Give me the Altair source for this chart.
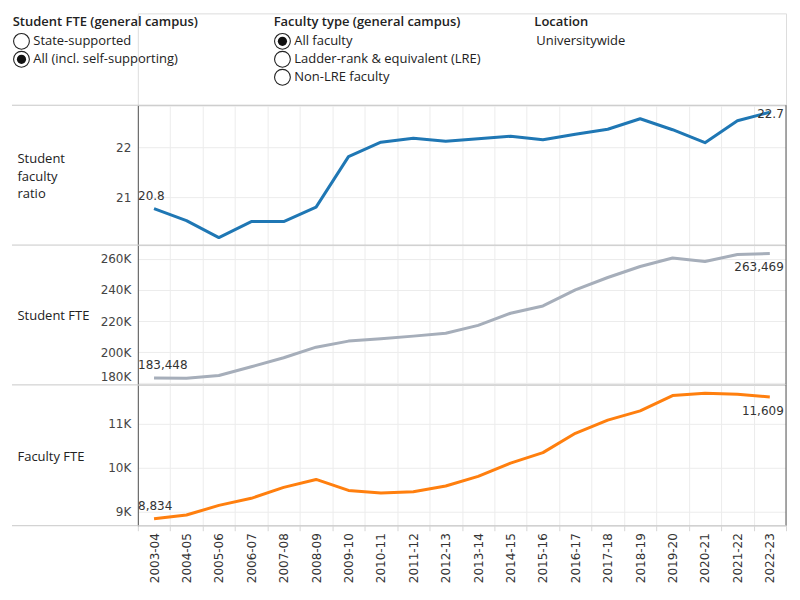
import altair as alt
import pandas as pd

# ---------------- data ----------------
years = ["2003-04", "2004-05", "2005-06", "2006-07", "2007-08", "2008-09", "2009-10",
         "2010-11", "2011-12", "2012-13", "2013-14", "2014-15", "2015-16", "2016-17",
         "2017-18", "2018-19", "2019-20", "2020-21", "2021-22", "2022-23"]
ratio = [20.77, 20.53, 20.19, 20.51, 20.51, 20.80, 21.81, 22.10, 22.18, 22.12,
         22.17, 22.22, 22.15, 22.26, 22.36, 22.57, 22.35, 22.09, 22.53, 22.70]
student_fte = [183448, 183200, 185000, 190600, 196400, 203200, 207100, 208600, 210300, 212100,
               217200, 225000, 229700, 240000, 248000, 255100, 260500, 258300, 262800, 263469]
faculty_fte = [8834, 8920, 9140, 9300, 9550, 9730, 9480, 9420, 9450, 9580,
               9800, 10100, 10340, 10780, 11080, 11290, 11640, 11690, 11670, 11609]

header_titles = ["Student FTE (general campus)", "Faculty type (general campus)", "Location"]
header_options = [["State-supported", "All (incl. self-supporting)"],
                  ["All faculty", "Ladder-rank & equivalent (LRE)", "Non-LRE faculty"],
                  ["Universitywide"]]
header_selected = [1, 0, -1]
header_has_radio = [True, True, False]

df = pd.DataFrame({"year": years, "ratio": ratio, "student": student_fte, "faculty": faculty_fte})

# ---------------- layout / style ----------------
W = 649
FONT_UI = "Open Sans"
FONT_NUM = "DejaVu Sans"
TXT = "#333333"
GRID = "#ececec"
BORDER = "#c8c8c8"
DARK = "#555555"
LEFT_EXT = -126
HH = 92           # header band height
group_x = [-125.3, 136, 397]
title_y = 22 - (105.5 - HH)
row_y0 = 41.5 - (105.5 - HH)
row_step = 18
LINE_H = 17.5

one = alt.Data(values=[{}])

x_scale = alt.Scale(type="band", paddingInner=0, paddingOuter=0, domain=years)


def panel(field, color, title, domain, ticks, label_expr, height, fmt,
          dy_first, dy_last, show_x_labels, flush=False):
    if show_x_labels:
        x_axis = alt.Axis(title=None, tickBand="extent", grid=True, gridColor=GRID,
                          domain=False, ticks=True, tickSize=5, tickColor="#d6d6d6",
                          labelAngle=270, labelFont=FONT_NUM, labelFontSize=12,
                          labelColor=TXT, labelPadding=2)
    else:
        x_axis = alt.Axis(title=None, tickBand="extent", grid=True, gridColor=GRID,
                          domain=False, ticks=False, labels=False)
    extra = {"labelFlush": 5} if flush else {}
    n_lines = len(title) if isinstance(title, list) else 1
    y_axis = alt.Axis(values=ticks, labelExpr=label_expr, title=title, titleAngle=0,
                      titleAlign="left", titleBaseline="middle", titleX=-121,
                      titleY=height / 2 - (n_lines - 1) * LINE_H / 2 + 1,
                      titleFont=FONT_UI, titleFontSize=13,
                      titleFontWeight="normal", titleColor="#222222", titleLineHeight=LINE_H,
                      labelFont=FONT_NUM, labelFontSize=12, labelColor="#444444",
                      labelPadding=7, ticks=False, domain=True, domainColor=DARK,
                      grid=True, gridColor=GRID, **extra)
    x = alt.X("year:O", sort=years, scale=x_scale, axis=x_axis, bandPosition=0.5)
    y = alt.Y(f"{field}:Q", scale=alt.Scale(domain=domain, nice=False, zero=False), axis=y_axis)
    base = alt.Chart(df)
    line = base.mark_line(color=color, strokeWidth=3, strokeJoin="round").encode(x=x, y=y)
    first = base.transform_filter(alt.datum.year == years[0]).mark_text(
        align="left", baseline="middle", dx=-16, dy=dy_first, font=FONT_NUM,
        fontSize=12, color=TXT).encode(x=x, y=y, text=alt.Text(f"{field}:Q", format=fmt))
    last = base.transform_filter(alt.datum.year == years[-1]).mark_text(
        align="right", baseline="middle", dx=14, dy=dy_last, font=FONT_NUM,
        fontSize=12, color=TXT).encode(x=x, y=y, text=alt.Text(f"{field}:Q", format=fmt))
    top_rule = alt.Chart(one).mark_rule(color=BORDER, strokeWidth=1).encode(
        x=alt.value(LEFT_EXT), x2=alt.value(W), y=alt.value(0))
    right_rule = alt.Chart(one).mark_rule(color=DARK, strokeWidth=1).encode(
        x=alt.value(W), y=alt.value(0), y2=alt.value(height))
    layers = [top_rule, right_rule, line, first, last]
    if show_x_labels:
        bottom_rule = alt.Chart(one).mark_rule(color=BORDER, strokeWidth=1).encode(
            x=alt.value(LEFT_EXT), x2=alt.value(W), y=alt.value(height))
        layers.append(bottom_rule)
    return alt.layer(*layers).properties(width=W, height=height)


p1 = panel("ratio", "#1f77b4", ["Student", "faculty", "ratio"], [20.04, 22.84], [21, 22],
           "format(datum.value, 'd')", 140, ".1f", -12.5, 1.5, False)
p2 = panel("student", "#a6aeba", "Student FTE", [178940, 268860],
           [180000, 200000, 220000, 240000, 260000],
           "format(datum.value / 1000, 'd') + 'K'", 140, ",.0f", -12.6, 13.7, False, flush=True)
p3 = panel("faculty", "#ff7f0e", "Faculty FTE", [8677, 11882], [9000, 10000, 11000],
           "format(datum.value / 1000, 'd') + 'K'", 141, ",.0f", -12.6, 13.7, True)

# ---------------- header (parameter controls) ----------------
rows = []
for g, (t, opts) in enumerate(zip(header_titles, header_options)):
    gx = group_x[g]
    rows.append({"kind": "title", "label": t, "px": gx, "py": title_y})
    for i, o in enumerate(opts):
        py = row_y0 + i * row_step
        if header_has_radio[g]:
            rows.append({"kind": "opt", "label": o, "px": gx + 20.6, "py": py})
            rows.append({"kind": "circle", "label": "", "px": gx + 8.8, "py": py})
            if header_selected[g] == i:
                rows.append({"kind": "dot", "label": "", "px": gx + 8.8, "py": py})
        else:
            rows.append({"kind": "opt", "label": o, "px": gx + 2, "py": py})
hdf = pd.DataFrame(rows)

hx = alt.X("px:Q", scale=None, axis=None)
hy = alt.Y("py:Q", scale=None, axis=None)
hbase = alt.Chart(hdf)
h_titles = hbase.transform_filter(alt.datum.kind == "title").mark_text(
    align="left", baseline="middle", font=FONT_UI, fontSize=13, fontWeight=600,
    color="#222222").encode(x=hx, y=hy, text="label:N")
h_opts = hbase.transform_filter(alt.datum.kind == "opt").mark_text(
    align="left", baseline="middle", font=FONT_UI, fontSize=13,
    color="#222222").encode(x=hx, y=hy, text="label:N")
h_circ = hbase.transform_filter(alt.datum.kind == "circle").mark_point(
    shape="circle", size=250, filled=True, fill="white", stroke="#222222",
    strokeWidth=1.1, opacity=1).encode(x=hx, y=hy)
h_dot = hbase.transform_filter(alt.datum.kind == "dot").mark_point(
    shape="circle", size=85, filled=True, color="#111111", opacity=1).encode(x=hx, y=hy)
header = alt.layer(h_titles, h_opts, h_circ, h_dot).properties(width=W, height=HH)

chart = alt.vconcat(header, p1, p2, p3, spacing=0, bounds="flush").properties(
    padding={"left": 2, "top": 4, "right": 5, "bottom": 5}
).configure_view(stroke=None).configure(background="white")

chart.save("out.html", embed_options={"renderer": "svg", "actions": False})
